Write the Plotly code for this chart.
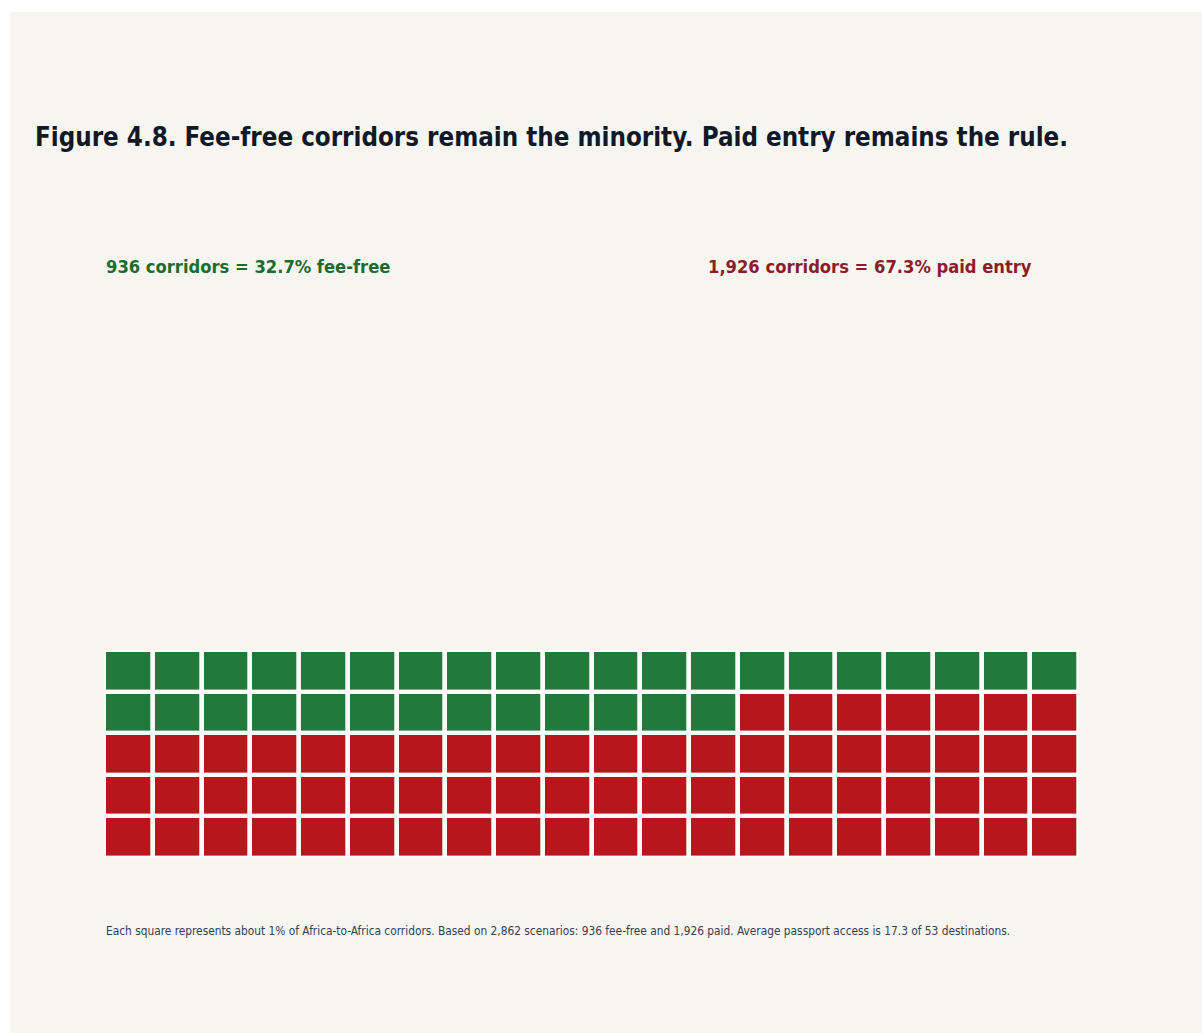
import plotly.graph_objects as go

# ---- data ----
fee_free_corridors = 936
paid_corridors = 1926
n_rows = 5
n_cols = 20
categories = ["Fee-free", "Paid entry"]
category_colors = ["#217a3c", "#b5171c"]
title_text = "Figure 4.8. Fee-free corridors remain the minority. Paid entry remains the rule."
label_free = "936 corridors = 32.7% fee-free"
label_paid = "1,926 corridors = 67.3% paid entry"
footnote = ("Each square represents about 1% of Africa-to-Africa corridors. Based on 2,862 scenarios: "
            "936 fee-free and 1,926 paid. Average passport access is 17.3 of 53 destinations.")

total = fee_free_corridors + paid_corridors
n_free = round(n_rows * n_cols * fee_free_corridors / total)
z = [[0 if r * n_cols + c < n_free else 1 for c in range(n_cols)] for r in range(n_rows)]
text = [[categories[v] for v in row] for row in z]

# ---- layout geometry ----
W, H = 1202, 1033
ML, MR, MT, MB = 104, 123, 650, 175
PW, PH = W - ML - MR, H - MT - MB


def xp(px):
    return (px - ML) / PW


def yp(py):
    return (H - MB - py) / PH


FONT_B = "DejaVu Sans Condensed, DejaVu Sans, sans-serif"

fig = go.Figure(
    go.Heatmap(
        z=z,
        x=list(range(n_cols)),
        y=list(range(n_rows)),
        text=text,
        colorscale=[[0, category_colors[0]], [0.5, category_colors[0]],
                    [0.5, category_colors[1]], [1, category_colors[1]]],
        zmin=0, zmax=1,
        showscale=False,
        xgap=4.7, ygap=4.4,
        hovertemplate="%{text}<extra></extra>",
    )
)

fig.update_layout(
    width=W, height=H,
    margin=dict(l=ML, r=MR, t=MT, b=MB, pad=0),
    paper_bgcolor="#f6f5f0",
    plot_bgcolor="#fdfcfa",
    title=dict(
        text="<b>" + title_text + "</b>",
        x=35 / W, xanchor="left", xref="container",
        y=1 - 137 / H, yanchor="middle", yref="container",
        font=dict(family=FONT_B, size=25.7, color="#111827"),
    ),
    xaxis=dict(visible=False, range=[-0.5, n_cols - 0.5], fixedrange=True),
    yaxis=dict(visible=False, range=[n_rows - 0.5, -0.5], fixedrange=True),
    showlegend=False,
)

fig.add_annotation(x=xp(104), y=yp(266), xref="paper", yref="paper",
                   text="<b>" + label_free + "</b>", showarrow=False,
                   xanchor="left", yanchor="middle",
                   font=dict(family=FONT_B, size=18.2, color="#1c6b30"))
fig.add_annotation(x=xp(706), y=yp(266), xref="paper", yref="paper",
                   text="<b>" + label_paid + "</b>", showarrow=False,
                   xanchor="left", yanchor="middle",
                   font=dict(family=FONT_B, size=18.2, color="#8c1c2a"))
fig.add_annotation(x=xp(104), y=yp(931), xref="paper", yref="paper",
                   text=footnote, showarrow=False,
                   xanchor="left", yanchor="middle",
                   font=dict(family=FONT_B, size=11.8, color="#334155"))

# white page margin visible at left/top of the reference
fig.add_shape(type="rect", xref="paper", yref="paper",
              x0=xp(0), x1=xp(10), y0=yp(H), y1=yp(0),
              fillcolor="white", line=dict(width=0), layer="above")
fig.add_shape(type="rect", xref="paper", yref="paper",
              x0=xp(0), x1=xp(W), y0=yp(12), y1=yp(0),
              fillcolor="white", line=dict(width=0), layer="above")

fig.write_html("out.html")
